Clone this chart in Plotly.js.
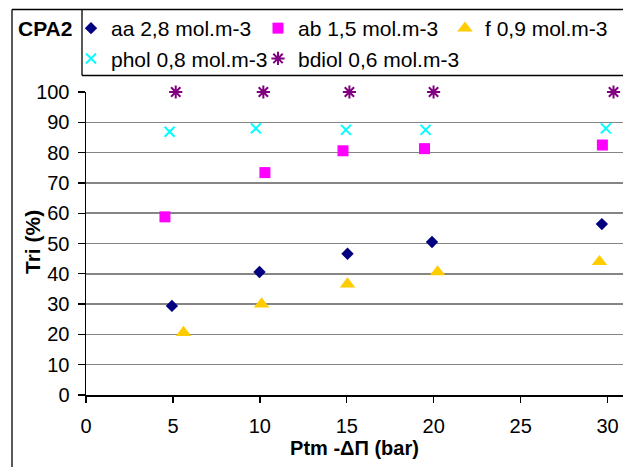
<!DOCTYPE html>
<html>
<head>
<meta charset="utf-8">
<script src="https://cdn.plot.ly/plotly-3.0.1.min.js"></script>
<style>
html,body{margin:0;padding:0;background:#fff;}
#chart{width:623px;height:467px;}
</style>
</head>
<body>
<div id="chart"></div>
<script>
// Series names
const seriesNames = ["aa 2,8 mol.m-3", "ab 1,5 mol.m-3", "f 0,9 mol.m-3", "phol 0,8 mol.m-3", "bdiol 0,6 mol.m-3"];
// x values: Ptm - ΔΠ (bar)
const xAA    = [4.94, 9.98, 15.04, 19.90, 29.67];
const xAB    = [4.54, 10.29, 14.78, 19.47, 29.70];
const xF     = [5.61, 10.10, 15.04, 20.22, 29.53];
const xPHOL  = [4.81, 9.77, 14.95, 19.53, 29.90];
const xBDIOL = [5.16, 10.20, 15.15, 19.99, 30.34];
// y values: Tri (%)
const yAA    = [29.4, 40.6, 46.6, 50.5, 56.4];
const yAB    = [58.8, 73.4, 80.6, 81.3, 82.5];
const yF     = [20.6, 30.0, 36.6, 40.6, 44.0];
const yPHOL  = [86.9, 88.0, 87.5, 87.5, 88.0];
const yBDIOL = [100, 100, 100, 100, 100];
// tick labels
const xTicks = [0, 5, 10, 15, 20, 25, 30];
const yTicks = [0, 10, 20, 30, 40, 50, 60, 70, 80, 90, 100];

const FONT = "Liberation Sans, Arial, sans-serif";

const traces = [
  {x: xAA, y: yAA, name: seriesNames[0], mode: "markers", type: "scatter", cliponaxis: false,
   marker: {symbol: "diamond", size: 9.5, color: "#000080"}},
  {x: xAB, y: yAB, name: seriesNames[1], mode: "markers", type: "scatter", cliponaxis: false,
   marker: {symbol: "square", size: 11, color: "#FF00FF"}},
  {x: xF, y: yF, name: seriesNames[2], mode: "markers", type: "scatter", cliponaxis: false,
   marker: {symbol: "triangle-up", size: 13.5, color: "#FFCC00"}},
  {x: xPHOL, y: yPHOL, name: seriesNames[3], mode: "markers", type: "scatter", cliponaxis: false,
   marker: {symbol: "x-thin-open", size: 10, color: "#00FFFF", line: {color: "#00FFFF", width: 2}}},
  {x: xBDIOL, y: yBDIOL, name: seriesNames[4], mode: "markers", type: "scatter", cliponaxis: false,
   marker: {symbol: "asterisk-open", size: 11, color: "#800080", line: {color: "#800080", width: 2}}}
];

// pixel -> paper helpers for frame lines
const L = 86, T = 92, W = 537, H = 303;
const px = v => (v - L) / W;
const py = v => (T + H - v) / H;

const frame = {type: "line", xref: "paper", yref: "paper", line: {color: "#000", width: 1.3}};
const shapes = [
  Object.assign({}, frame, {x0: px(12), x1: px(12), y0: py(9.5), y1: py(470)}),
  Object.assign({}, frame, {x0: px(12), x1: px(626), y0: py(9.5), y1: py(9.5)}),
  Object.assign({}, frame, {x0: px(82), x1: px(82), y0: py(9.5), y1: py(75.5)}),
  Object.assign({}, frame, {x0: px(82), x1: px(626), y0: py(75.5), y1: py(75.5)})
];

const layout = {
  width: 623, height: 467,
  margin: {l: L, r: 0, t: T, b: 467 - T - H, autoexpand: false},
  paper_bgcolor: "#fff", plot_bgcolor: "#fff",
  font: {family: FONT, size: 20, color: "#000"},
  showlegend: true,
  legend: {
    orientation: "h", x: px(71), xanchor: "left", y: py(8), yanchor: "top",
    font: {family: FONT, size: 21, color: "#000"},
    bgcolor: "rgba(0,0,0,0)", borderwidth: 0,
    entrywidth: 142, entrywidthmode: "pixels", itemwidth: 30, traceorder: "normal"
  },
  xaxis: {
    range: [0, W / 17.387], tickmode: "array", tickvals: xTicks, ticktext: xTicks.map(String),
    showgrid: false, zeroline: false, showline: true, linecolor: "#000", linewidth: 1.5,
    ticks: "outside", ticklen: 6, tickwidth: 1.3, tickcolor: "#000", ticklabelstandoff: 6,
    tickfont: {family: FONT, size: 20, color: "#000"},
    title: {text: "<b>Ptm -ΔΠ (bar)</b>", font: {family: FONT, size: 20, color: "#000"}, standoff: 3},
    automargin: false, fixedrange: true
  },
  yaxis: {
    range: [0, 100], tickmode: "array", tickvals: yTicks, ticktext: yTicks.map(String),
    showgrid: true, gridcolor: "#858585", gridwidth: 1.5,
    zeroline: false, showline: true, linecolor: "#000", linewidth: 1.5,
    ticks: "outside", ticklen: 7, tickwidth: 1.3, tickcolor: "#000", ticklabelstandoff: 4,
    tickfont: {family: FONT, size: 20, color: "#000"},
    automargin: false, fixedrange: true
  },
  shapes: shapes,
  annotations: [
    {text: "<b>CPA2</b>", xref: "paper", yref: "paper", x: px(45), y: py(28),
     xanchor: "center", yanchor: "middle", showarrow: false,
     font: {family: FONT, size: 21, color: "#000"}},
    {text: "<b>Tri (%)</b>", xref: "paper", yref: "paper", x: px(32), y: py(242),
     xanchor: "center", yanchor: "middle", showarrow: false, textangle: -90,
     font: {family: FONT, size: 21, color: "#000"}}
  ]
};

Plotly.newPlot("chart", traces, layout, {displayModeBar: false, staticPlot: true});
</script>
</body>
</html>
